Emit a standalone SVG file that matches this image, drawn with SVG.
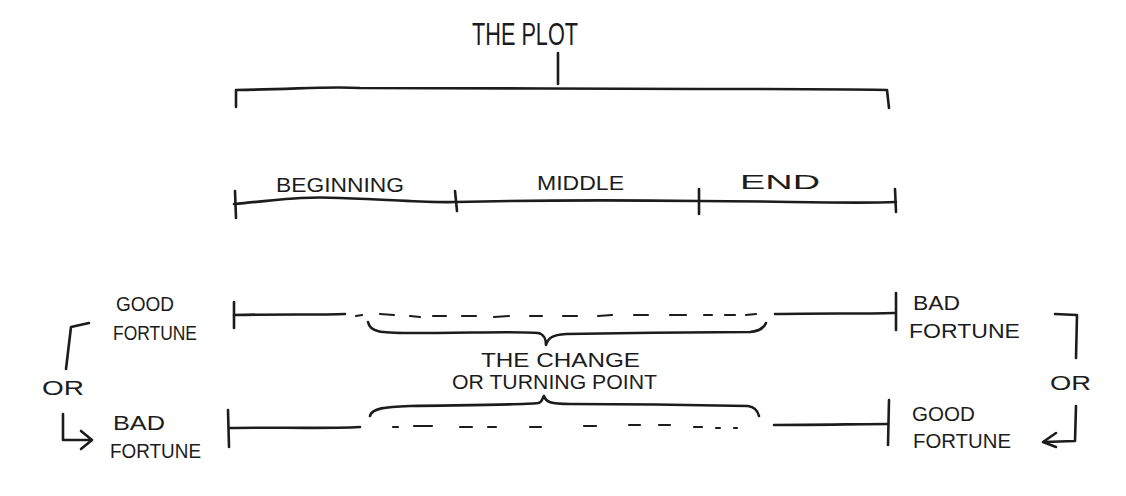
<svg xmlns="http://www.w3.org/2000/svg" width="1126" height="496" viewBox="0 0 1126 496">
<style>
.ln{fill:none;stroke:#1c1c1c;stroke-width:2.6;stroke-linecap:round;stroke-linejoin:round}
.ds{fill:none;stroke:#1c1c1c;stroke-width:2.2;stroke-linecap:round}
.t{font-family:"Liberation Sans",Arial,sans-serif;fill:#1c1c1c;font-size:21px}
.tb{font-family:"Liberation Sans",Arial,sans-serif;fill:#1c1c1c;font-size:32px}
</style>
<rect width="1126" height="496" fill="#ffffff"/>
<g id="plot">
<text class="tb" x="472" y="45" textLength="106" lengthAdjust="spacingAndGlyphs">THE PLOT</text>
</g>
<g id="plot-bracket">
<path class="ln" d="M558 53 L558 84"/>
<path class="ln" d="M236 107 L236 90 C300 89 330 86 360 88 C450 89 600 88 700 89 C780 89 850 89 887 90 L889 108"/>
</g>
<g id="timeline">
<path class="ln" d="M234 204 C280 200 300 196 340 198 C400 200 430 203 456 202 C540 200 620 200 699 201 C780 201 850 204 896 202"/>
<path class="ln" d="M235 191 L236 218"/>
<path class="ln" d="M455 191 L457 211"/>
<path class="ln" d="M699 189 L699 214"/>
<path class="ln" d="M895 189 L896 212"/>
<text class="t" x="276" y="192" textLength="128" lengthAdjust="spacingAndGlyphs">BEGINNING</text>
<text class="t" x="537" y="190" textLength="87" lengthAdjust="spacingAndGlyphs">MIDDLE</text>
<text class="t" x="740" y="189" textLength="80" lengthAdjust="spacingAndGlyphs">END</text>
</g>
<g id="row1">
<text class="t" x="116" y="311" textLength="58" lengthAdjust="spacingAndGlyphs">GOOD</text>
<text class="t" x="113" y="340" textLength="84" lengthAdjust="spacingAndGlyphs">FORTUNE</text>
<path class="ln" d="M234 302 L234 328"/>
<path class="ln" d="M234 315 C280 314 320 315 345 314"/>
<path class="ds" d="M356 316 L362 315 M380 314 L394 315 M410 316 L420 317 M433 316 L446 316 M462 316 L476 316 M494 317 L509 316 M530 316 L542 316 M563 316 L577 316 M598 316 L612 315 M634 315 L648 315 M670 315 L686 315 M704 315 L712 315 M725 315 L735 315 M746 315 L756 314"/>
<path class="ln" d="M775 314 C820 313 860 314 894 313"/>
<path class="ln" d="M896 293 L896 330"/>
<text class="t" x="913" y="310" textLength="47" lengthAdjust="spacingAndGlyphs">BAD</text>
<text class="t" x="909" y="338" textLength="111" lengthAdjust="spacingAndGlyphs">FORTUNE</text>
</g>
<g id="change">
<path class="ln" d="M368 322 C370 332 380 333 410 333 C470 333 520 331 538 333 C544 334 546 340 546 345 C548 338 552 335 566 334 C620 333 700 332 750 332 C760 331 764 328 766 323"/>
<text class="t" x="481" y="367" textLength="159" lengthAdjust="spacingAndGlyphs">THE  CHANGE</text>
<text class="t" x="452" y="389" textLength="205" lengthAdjust="spacingAndGlyphs">OR TURNING  POINT</text>
<path class="ln" d="M370 416 C372 408 385 407 410 406 C470 405 520 405 538 403 C543 402 542 398 544 396 C546 402 550 404 570 404 C640 404 700 405 748 406 C755 407 758 412 759 416"/>
</g>
<g id="row2">
<text class="t" x="113" y="430" textLength="52" lengthAdjust="spacingAndGlyphs">BAD</text>
<text class="t" x="110" y="458" textLength="91" lengthAdjust="spacingAndGlyphs">FORTUNE</text>
<path class="ln" d="M228 410 L229 447"/>
<path class="ln" d="M229 428 C270 427 320 429 360 427"/>
<path class="ds" d="M393 427 L398 427 M414 426 L432 426 M460 427 L472 427 M488 427 L496 427 M530 427 L541 427 M584 426 L596 426 M629 425 L640 425 M659 425 L670 425 M694 427 L702 427 M716 428 L720 428 M734 428 L737 428"/>
<path class="ln" d="M774 425 C820 425 860 424 888 424"/>
<path class="ln" d="M889 400 L888 445"/>
<text class="t" x="912" y="421" textLength="63" lengthAdjust="spacingAndGlyphs">GOOD</text>
<text class="t" x="913" y="448" textLength="98" lengthAdjust="spacingAndGlyphs">FORTUNE</text>
</g>
<g id="or-left">
<path class="ln" d="M89 323 L71 327 L66 369"/>
<text class="t" x="42" y="395" textLength="42" lengthAdjust="spacingAndGlyphs">OR</text>
<path class="ln" d="M63 414 L63 440 L91 440"/>
<path class="ln" d="M81 431 L92 440 L81 449"/>
</g>
<g id="or-right">
<path class="ln" d="M1055 314 L1077 315 L1076 358"/>
<text class="t" x="1050" y="390" textLength="41" lengthAdjust="spacingAndGlyphs">OR</text>
<path class="ln" d="M1076 406 L1075 441 L1044 442"/>
<path class="ln" d="M1056 433 L1043 442 L1056 447"/>
</g>
</svg>
